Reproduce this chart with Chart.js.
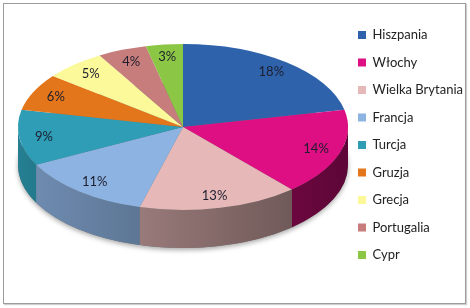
<!DOCTYPE html>
<html>
<head>
<meta charset="utf-8">
<script src="https://cdn.jsdelivr.net/npm/chart.js@4.4.1/dist/chart.umd.min.js"></script>
<style>
  html, body { margin: 0; padding: 0; background: #ffffff; }
  #wrap { position: relative; width: 470px; height: 308px; }
  #frame { position: absolute; left: 3px; top: 3px; width: 461px; height: 299px;
           border: 1px solid #9c9c9c; box-shadow: 1px 1px 1px #cfcfcf; pointer-events: none; }
</style>
</head>
<body>
<div id="wrap">
  <canvas id="c" width="470" height="308"></canvas>
  <div id="frame"></div>
</div>
<script>
const categories = ['Hiszpania', 'Włochy', 'Wielka Brytania', 'Francja', 'Turcja', 'Gruzja', 'Grecja', 'Portugalia', 'Cypr'];
const values = [18, 14, 13, 11, 9, 6, 5, 4, 3];
const valueLabels = ['18%', '14%', '13%', '11%', '9%', '6%', '5%', '4%', '3%'];
const colors = ['#2e63ab', '#dd0f82', '#e6b9b8', '#8db3e2', '#2e9db5', '#e3761b', '#fbf99a', '#c67d7b', '#8bc644'];

// 3D projection layout (ellipse of the top face and wall depth)
const CX = 183, CY = 127, RX = 165, RY = 83, DEPTH = 38, LABEL_F = 0.85;

function shade(hex, k) {
  const n = parseInt(hex.slice(1), 16);
  const r = Math.round(((n >> 16) & 255) * k), g = Math.round(((n >> 8) & 255) * k), b = Math.round((n & 255) * k);
  return 'rgb(' + r + ',' + g + ',' + b + ')';
}
function kAt(x) { // lighting: brighter on the left, darker on the right
  const t = (x - (CX - RX)) / (2 * RX);
  return 0.8 - 0.38 * t;
}

const pie3d = {
  id: 'pie3d',
  beforeDatasetsDraw(chart) {
    const ctx = chart.ctx;
    const arcs = chart.getDatasetMeta(0).data;
    ctx.save();
    ctx.shadowColor = 'rgba(0,0,0,0.35)';
    ctx.shadowBlur = 5;
    ctx.shadowOffsetY = 2;
    ctx.fillStyle = '#777';
    ctx.beginPath();
    ctx.ellipse(CX, CY + DEPTH, RX, RY, 0, 0, Math.PI * 2);
    ctx.fill();
    ctx.restore();
    ctx.save();
    arcs.forEach((arc, i) => {
      const s = Math.max(arc.startAngle, 0), e = Math.min(arc.endAngle, Math.PI);
      if (e <= s) return;
      const x1 = CX + RX * Math.cos(s), x2 = CX + RX * Math.cos(e);
      const xl = Math.min(x1, x2), xr = Math.max(x1, x2);
      const g = ctx.createLinearGradient(xl, 0, xr, 0);
      g.addColorStop(0, shade(colors[i], kAt(xl)));
      g.addColorStop(1, shade(colors[i], kAt(xr)));
      ctx.fillStyle = g;
      ctx.beginPath();
      ctx.ellipse(CX, CY, RX, RY, 0, s, e);
      ctx.ellipse(CX, CY + DEPTH, RX, RY, 0, e, s, true);
      ctx.closePath();
      ctx.fill();
    });
    ctx.restore();
    const a0 = arcs[0];
    const r = a0.outerRadius;
    ctx.save();
    ctx.translate(CX, CY);
    ctx.scale(RX / r, RY / r);
    ctx.translate(-a0.x, -a0.y);
  },
  afterDatasetsDraw(chart) {
    const ctx = chart.ctx;
    ctx.restore();
    const arcs = chart.getDatasetMeta(0).data;
    ctx.save();
    ctx.font = '13px Lato';
    ctx.fillStyle = '#1e1e2e';
    ctx.textAlign = 'center';
    ctx.textBaseline = 'middle';
    arcs.forEach((arc, i) => {
      const m = (arc.startAngle + arc.endAngle) / 2;
      ctx.fillText(valueLabels[i], CX + RX * LABEL_F * Math.cos(m), CY + RY * LABEL_F * Math.sin(m));
    });
    ctx.restore();
  }
};

new Chart(document.getElementById('c'), {
  type: 'pie',
  data: {
    labels: categories,
    datasets: [{ data: values, backgroundColor: colors, borderWidth: 0, clip: false }]
  },
  options: {
    responsive: false,
    animation: false,
    events: [],
    layout: { padding: { top: 0, bottom: 18, left: 0, right: -3 } },
    plugins: {
      legend: {
        position: 'right',
        labels: {
          font: { family: 'Lato', size: 13 },
          color: '#222',
          boxWidth: 8,
          boxHeight: 8,
          padding: 14.5
        }
      },
      tooltip: { enabled: false }
    }
  },
  plugins: [pie3d]
});
</script>
</body>
</html>
